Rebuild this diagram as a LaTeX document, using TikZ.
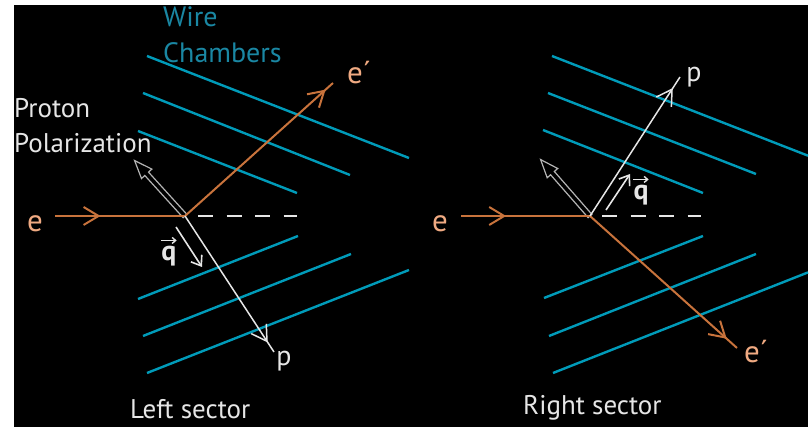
\documentclass[tikz,border=0pt]{standalone}
\usepackage{fontspec}
\setmainfont{PT Sans}
\usetikzlibrary{arrows.meta,decorations.markings,calc}
\definecolor{elec}{HTML}{C8733C}
\definecolor{elab}{HTML}{F0AA82}
\definecolor{wire}{HTML}{009BB9}
\definecolor{wtext}{HTML}{1A87A3}
\definecolor{wh}{HTML}{E6E6E6}
\definecolor{polgray}{HTML}{B4B4B4}
\begin{document}
\begin{tikzpicture}[x=1pt,y=-1pt,
  chamber/.style={draw=wire, line width=2.4pt},
  eline/.style={color=elec, line width=2pt},
  pline/.style={color=wh, line width=1.5pt},
  qline/.style={color=wh, line width=1.6pt, -{Straight Barb[length=9pt,width=13pt]}},
  dashline/.style={draw=wh, line width=2pt, dash pattern=on 15pt off 13.5pt},
  arrowat/.style={postaction={decorate}, decoration={markings, mark=at position #1 with {\arrow{Straight Barb[length=15pt,width=18pt]}}}},
  polarrow/.style={draw=polgray, line width=1.2pt, fill=black},
  lab/.style={text=wh, font=\fontsize{27}{32}\selectfont, inner sep=0pt},
  wlab/.style={text=wtext, font=\fontsize{28}{32}\selectfont, inner sep=0pt},
  elabel/.style={text=elab, font=\fontsize{31}{34}\selectfont, inner sep=0pt},
  plabel/.style={text=wh, font=\fontsize{28}{32}\selectfont, inner sep=0pt},
  qlabel/.style={text=wh, font=\fontsize{28}{32}\selectfont\bfseries, inner sep=0pt}]
\useasboundingbox (0,0) rectangle (809,427);
\fill[white] (0,0) rectangle (809,427);
\fill[black] (14,5) rectangle (808,427);

% ---------- left sector ----------
\coordinate (vL) at (185,216);
\coordinate (eInL) at (55,216);
\coordinate (eOutL) at (333,83);
\coordinate (pEndL) at (274,352);
\coordinate (dashSL) at (198,216);
\coordinate (dashEL) at (297,216);

\draw[chamber] (147,56) -- (409,158);
\draw[chamber] (143,93) -- (350,175);
\draw[chamber] (138,131) -- (297,193);
\draw[chamber] (138,299) -- (298,236);
\draw[chamber] (143,336) -- (351,254);
\draw[chamber] (147,373) -- (409,270);

\begin{scope}[shift={(vL)}, rotate=132.27]
  \draw[polarrow] (0,2.5) -- (57,2.5) -- (57,7) -- (75,0) -- (57,-7) -- (57,-2.5) -- (0,-2.5) -- cycle;
\end{scope}

\draw[dashline] (dashSL) -- (dashEL);
\draw[eline, arrowat=0.35] (eInL) -- (vL);
\draw[eline, arrowat=0.95] (vL) -- (eOutL);
\draw[pline, arrowat=0.93] (vL) -- (pEndL);

\coordinate (qSL) at (176,227);
\coordinate (qEL) at (202,267);
\draw[qline] (qSL) -- (qEL);
\node[qlabel, anchor=base] (qL) at (169,261) {q};
\draw[color=wh, line width=1.4pt, -{Straight Barb[length=3.5pt,width=6pt]}] ([yshift=6pt]qL.north west) -- ([yshift=6pt]qL.north east);

\node[elabel, anchor=base] (eLabL) at (35,232) {e};
\node[elabel, anchor=base west] (epLabL) at (347,84) {e´};
\node[plabel, anchor=base] (pLabL) at (284,366) {p};

\node[wlab, anchor=base west] (wire1) at (163,27) {Wire};
\node[wlab, anchor=base west] (wire2) at (163,63) {Chambers};
\node[lab, anchor=base west] (prot1) at (14,118) {Proton};
\node[lab, anchor=base west] (prot2) at (14,153) {Polarization};
\node[lab, anchor=base west] (leftsec) at (130,419) {Left sector};

% ---------- right sector ----------
\coordinate (vR) at (590,216);
\coordinate (eInR) at (461,216);
\coordinate (eOutR) at (737,348);
\coordinate (pEndR) at (680,77);
\coordinate (dashSR) at (602,216);
\coordinate (dashER) at (701,216);

\draw[chamber] (552,56) -- (808,155.7);
\draw[chamber] (548,93) -- (756,174);
\draw[chamber] (543,130) -- (703,193);
\draw[chamber] (544,298) -- (703,236);
\draw[chamber] (549,336) -- (756,254);
\draw[chamber] (553,373) -- (808,272.4);

\begin{scope}[shift={(vR)}, rotate=131.2]
  \draw[polarrow] (0,2.5) -- (57,2.5) -- (57,7) -- (75,0) -- (57,-7) -- (57,-2.5) -- (0,-2.5) -- cycle;
\end{scope}

\draw[dashline] (dashSR) -- (dashER);
\draw[eline, arrowat=0.35] (eInR) -- (vR);
\draw[eline, arrowat=0.93] (vR) -- (eOutR);
\draw[pline, arrowat=0.92] (vR) -- (pEndR);

\coordinate (qSR) at (606,210);
\coordinate (qER) at (630,174);
\draw[qline] (qSR) -- (qER);
\node[qlabel, anchor=base] (qR) at (641,200) {q};
\draw[color=wh, line width=1.4pt, -{Straight Barb[length=3.5pt,width=6pt]}] ([yshift=6pt]qR.north west) -- ([yshift=6pt]qR.north east);

\node[elabel, anchor=base] (eLabR) at (440,232) {e};
\node[elabel, anchor=base west] (epLabR) at (744,363) {e´};
\node[plabel, anchor=base] (pLabR) at (694,82) {p};

\node[lab, anchor=base west] (rightsec) at (523,415) {Right sector};
\end{tikzpicture}
\end{document}
